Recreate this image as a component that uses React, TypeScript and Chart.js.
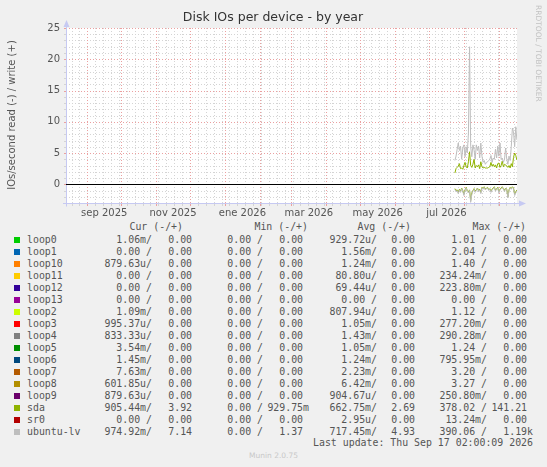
import React, { useEffect, useRef } from "react";
import { Chart, registerables } from "chart.js";

Chart.register(...registerables);

// time window of the graph (munin "by year" = 400 days)
const graphStart = "2025-08-13T02:00:00Z";
const graphEnd = "2026-09-17T02:00:00Z";
const seriesStart = "2026-07-24T00:00:00Z";

const monthStarts = [
  "2025-09-01", "2025-10-01", "2025-11-01", "2025-12-01", "2026-01-01", "2026-02-01",
  "2026-03-01", "2026-04-01", "2026-05-01", "2026-06-01", "2026-07-01", "2026-08-01", "2026-09-01",
];
const xTickMonths = ["2025-09", "2025-11", "2026-01", "2026-03", "2026-05", "2026-07"];
const xTickLabels = ["sep 2025", "nov 2025", "ene 2026", "mar 2026", "may 2026", "jul 2026"];
const yTicks = [0, 5, 10, 15, 20, 25];
const yMin = -3;
const yMax = 25;

// daily values (write = +, read = -)
const ubuntuWrite = [
  3.8, 4.5, 5.6, 6.6, 5.4, 6.1, 4.0, 5.8, 6.3, 4.4, 6.0, 5.0, 8.2, 22.0, 6.0, 4.4, 6.3, 5.5, 4.0, 6.3,
  5.4, 6.1, 4.2, 6.6, 4.5, 3.5, 3.8, 3.2, 3.5, 3.6, 3.8, 4.0, 4.6, 3.5, 4.2, 4.0, 5.6, 4.2, 6.1, 4.5,
  6.6, 4.0, 4.2, 3.5, 4.0, 5.8, 4.0, 3.2, 4.5, 3.8, 6.0, 9.0, 8.4, 6.0, 9.2, 7.1,
];
const sdaWrite = [
  1.8, 2.5, 2.7, 2.9, 3.3, 2.5, 2.6, 2.4, 3.0, 3.5, 2.8, 2.6, 3.6, 5.2, 3.0, 2.7, 3.2, 4.0, 2.6, 3.0,
  2.8, 3.1, 2.5, 3.6, 2.8, 2.6, 2.7, 2.6, 2.6, 2.6, 2.7, 2.8, 3.5, 2.9, 3.2, 2.8, 3.1, 2.6, 3.3, 3.4,
  2.7, 3.0, 3.7, 2.8, 3.2, 3.1, 2.9, 2.7, 3.0, 2.6, 3.3, 2.8, 4.3, 5.0, 4.6, 3.9,
];
const ubuntuRead = [
  -0.8, -1.2, -1.0, -1.5, -0.9, -1.3, -0.7, -1.1, -1.8, -1.0, -0.6, -1.2, -1.4, -1.0, -2.9, -1.6, -1.1, -0.8, -1.3, -1.0,
  -0.7, -1.2, -0.9, -1.5, -0.6, -0.8, -0.5, -0.9, -0.7, -0.6, -1.0, -0.8, -1.3, -0.9, -0.7, -0.5, -1.1, -0.8, -0.6, -1.4,
  -0.9, -0.7, -0.5, -0.8, -1.2, -0.7, -0.9, -2.2, -1.0, -0.6, -0.8, -0.5, -0.7, -1.8, -1.4, -1.0,
];
const sdaRead = [
  -0.7, -1.0, -0.9, -1.3, -0.8, -1.1, -0.6, -1.0, -1.6, -0.9, -0.5, -1.0, -1.2, -0.9, -2.6, -1.4, -1.0, -0.7, -1.1, -0.9,
  -0.6, -1.0, -0.8, -1.3, -0.5, -0.7, -0.4, -0.8, -0.6, -0.5, -0.9, -0.7, -1.1, -0.8, -0.6, -0.4, -1.0, -0.7, -0.5, -1.2,
  -0.8, -0.6, -0.4, -0.7, -1.0, -0.6, -0.8, -2.0, -0.9, -0.5, -0.7, -0.4, -0.6, -1.6, -1.2, -0.9,
];

// legend table
const devices = [
  "loop0", "loop1", "loop10", "loop11", "loop12", "loop13", "loop2", "loop3", "loop4",
  "loop5", "loop6", "loop7", "loop8", "loop9", "sda", "sr0", "ubuntu-lv",
];
const deviceColors = [
  "#00cc00", "#0066b3", "#ff8000", "#ffcc00", "#330099", "#990099", "#ccff00", "#ff0000", "#808080",
  "#008f00", "#00487d", "#b35a00", "#b38f00", "#6b006b", "#8fb300", "#b30000", "#bebebe",
];
const curRead = ["1.06m", "0.00", "879.63u", "0.00", "0.00", "0.00", "1.09m", "995.37u", "833.33u", "3.54m", "1.45m", "7.63m", "601.85u", "879.63u", "905.44m", "0.00", "974.92m"];
const curWrite = ["0.00", "0.00", "0.00", "0.00", "0.00", "0.00", "0.00", "0.00", "0.00", "0.00", "0.00", "0.00", "0.00", "0.00", "3.92", "0.00", "7.14"];
const minRead = ["0.00", "0.00", "0.00", "0.00", "0.00", "0.00", "0.00", "0.00", "0.00", "0.00", "0.00", "0.00", "0.00", "0.00", "0.00", "0.00", "0.00"];
const minWrite = ["0.00", "0.00", "0.00", "0.00", "0.00", "0.00", "0.00", "0.00", "0.00", "0.00", "0.00", "0.00", "0.00", "0.00", "929.75m", "0.00", "1.37"];
const avgRead = ["929.72u", "1.56m", "1.24m", "80.80u", "69.44u", "0.00", "807.94u", "1.05m", "1.43m", "1.05m", "1.24m", "2.23m", "6.42m", "904.67u", "662.75m", "2.95u", "717.45m"];
const avgWrite = ["0.00", "0.00", "0.00", "0.00", "0.00", "0.00", "0.00", "0.00", "0.00", "0.00", "0.00", "0.00", "0.00", "0.00", "2.69", "0.00", "4.93"];
const maxRead = ["1.01", "2.04", "1.40", "234.24m", "223.80m", "0.00", "1.12", "277.20m", "290.28m", "1.24", "795.95m", "3.20", "3.27", "250.80m", "378.02", "13.24m", "390.06"];
const maxWrite = ["0.00", "0.00", "0.00", "0.00", "0.00", "0.00", "0.00", "0.00", "0.00", "0.00", "0.00", "0.00", "0.00", "0.00", "141.21", "0.00", "1.19k"];
const lastUpdate = "Last update: Thu Sep 17 02:00:09 2026";

const DAY = 86400000;
const t = (s: string) => Date.parse(s.length === 10 ? s + "T00:00:00Z" : s);
const points = (vals: number[]) => vals.map((v, i) => ({ x: t(seriesStart) + i * DAY, y: v }));

const GRID = "#d4d4d4";
const MGRID = "#eba0a0";
const AXIS = "#c6c9f2";
const TEXT = "#555555";

const muninPlugin = {
  id: "munin",
  beforeDraw(chart: any) {
    const { ctx, chartArea: a, scales } = chart;
    const x = scales.x;
    const y = scales.y;
    ctx.save();
    ctx.fillStyle = "#f0f0f0";
    ctx.fillRect(0, 0, chart.width, chart.height);
    ctx.fillStyle = "#ffffff";
    ctx.fillRect(a.left, a.top, a.right - a.left, a.bottom - a.top);
    ctx.lineWidth = 1;

    const hline = (v: number, c: string, x0: number, x1: number) => {
      const py = Math.round(y.getPixelForValue(v)) + 0.5;
      ctx.strokeStyle = c;
      ctx.beginPath();
      ctx.moveTo(x0, py);
      ctx.lineTo(x1, py);
      ctx.stroke();
    };
    const vline = (v: number, c: string, y0: number, y1: number) => {
      const px = Math.round(x.getPixelForValue(v)) + 0.5;
      ctx.strokeStyle = c;
      ctx.beginPath();
      ctx.moveTo(px, y0);
      ctx.lineTo(px, y1);
      ctx.stroke();
    };

    const weeks: number[] = [];
    for (let w = t("2025-08-18"); w < t(graphEnd); w += 7 * DAY) weeks.push(w);
    const months = monthStarts.map(t);

    // dotted grid
    ctx.setLineDash([1, 2]);
    for (let v = yMin; v <= yMax; v++) if (v % 5 !== 0) hline(v, GRID, a.left, a.right);
    weeks.forEach((w) => vline(w, GRID, a.top, a.bottom));
    for (let v = yMin; v <= yMax; v++) if (v % 5 === 0 && v !== 0) hline(v, MGRID, a.left, a.right);
    months.forEach((m) => vline(m, MGRID, a.top, a.bottom));
    ctx.setLineDash([]);

    // axis tick marks
    for (let v = yMin; v <= yMax; v++) hline(v, v % 5 === 0 ? MGRID : GRID, a.left - 2, a.left + 1);
    weeks.forEach((w) => vline(w, GRID, a.bottom - 1, a.bottom + 3));
    months.forEach((m) => vline(m, MGRID, a.bottom - 1, a.bottom + 3));

    // axes with arrows
    ctx.strokeStyle = AXIS;
    ctx.fillStyle = AXIS;
    const ax = Math.round(a.left) + 0.5;
    const ay = Math.round(a.bottom) + 0.5;
    ctx.beginPath();
    ctx.moveTo(ax, ay + 3);
    ctx.lineTo(ax, a.top - 4);
    ctx.moveTo(a.left - 3, ay);
    ctx.lineTo(a.right + 4, ay);
    ctx.stroke();
    ctx.beginPath();
    ctx.moveTo(ax - 3, a.top - 1);
    ctx.lineTo(ax + 3, a.top - 1);
    ctx.lineTo(ax, a.top - 8);
    ctx.closePath();
    ctx.fill();
    ctx.beginPath();
    ctx.moveTo(a.right + 2, ay - 3);
    ctx.lineTo(a.right + 2, ay + 3);
    ctx.lineTo(a.right + 9, ay);
    ctx.closePath();
    ctx.fill();
    ctx.restore();
  },
  afterDatasetsDraw(chart: any) {
    const { ctx, chartArea: a, scales } = chart;
    const py = Math.round(scales.y.getPixelForValue(0)) + 0.5;
    ctx.save();
    ctx.strokeStyle = "#000000";
    ctx.lineWidth = 1;
    ctx.beginPath();
    ctx.moveTo(a.left, py);
    ctx.lineTo(a.right, py);
    ctx.stroke();
    ctx.restore();
  },
  afterDraw(chart: any) {
    const { ctx } = chart;
    ctx.save();
    ctx.fillStyle = "#333333";
    ctx.font = "12.5px 'DejaVu Sans'";
    ctx.textAlign = "center";
    ctx.textBaseline = "middle";
    ctx.fillText("Disk IOs per device - by year", 273, 18);

    ctx.save();
    ctx.translate(12, 115);
    ctx.rotate(-Math.PI / 2);
    ctx.fillStyle = TEXT;
    ctx.font = "10px 'DejaVu Sans'";
    ctx.fillText("IOs/second read (-) / write (+)", 0, 0);
    ctx.restore();

    ctx.translate(538, 5);
    ctx.rotate(Math.PI / 2);
    ctx.fillStyle = "#c2c2c2";
    ctx.font = "7.5px 'DejaVu Sans'";
    ctx.textAlign = "left";
    ctx.fillText("RRDTOOL / TOBI OETIKER", 0, 0);
    ctx.restore();
  },
};

const withUnit = (s: string) => (/[0-9]$/.test(s) ? s + " " : s);

function Cell({ text, right, top }: { text: string; right: number; top: number }) {
  return (
    <div style={{ position: "absolute", right: 547 - right, top, lineHeight: "12px", whiteSpace: "pre" }}>
      {text}
    </div>
  );
}

export default function App() {
  const canvasRef = useRef<HTMLCanvasElement | null>(null);
  const chartRef = useRef<Chart | null>(null);

  useEffect(() => {
    if (!canvasRef.current) return;
    if (chartRef.current) chartRef.current.destroy();

    const monthMid = (m: string) => {
      const i = monthStarts.findIndex((s) => s.startsWith(m));
      return (t(monthStarts[i]) + t(monthStarts[i + 1])) / 2;
    };

    chartRef.current = new Chart(canvasRef.current, {
      type: "line",
      data: {
        datasets: [
          { label: "ubuntu-lv", data: points(ubuntuWrite), borderColor: "#bebebe" },
          { label: "ubuntu-lv read", data: points(ubuntuRead), borderColor: "#bebebe" },
          { label: "sda", data: points(sdaWrite), borderColor: "#8fb300" },
          { label: "sda read", data: points(sdaRead), borderColor: "#8fb300" },
        ].map((d) => ({ ...d, borderWidth: 1, pointRadius: 0, tension: 0, fill: false })),
      },
      options: {
        animation: false,
        responsive: false,
        events: [],
        layout: { padding: { top: 28, right: 30, left: 0, bottom: 0 } },
        plugins: { legend: { display: false }, tooltip: { enabled: false }, title: { display: false } },
        scales: {
          x: {
            type: "linear",
            min: t(graphStart),
            max: t(graphEnd),
            grid: { display: false, drawTicks: false },
            border: { display: false },
            afterBuildTicks: (s: any) => {
              s.ticks = xTickMonths.map((m) => ({ value: monthMid(m) }));
            },
            afterFit: (s: any) => {
              s.height = 17;
            },
            ticks: {
              autoSkip: false,
              maxRotation: 0,
              padding: 4,
              color: TEXT,
              font: { family: "DejaVu Sans", size: 10 },
              callback: (_v: any, i: number) => xTickLabels[i],
            },
          },
          y: {
            min: yMin,
            max: yMax,
            grid: { display: false, drawTicks: false },
            border: { display: false },
            afterBuildTicks: (s: any) => {
              s.ticks = yTicks.map((v) => ({ value: v }));
            },
            afterFit: (s: any) => {
              s.width = 66;
            },
            ticks: {
              padding: 6,
              color: TEXT,
              font: { family: "DejaVu Sans", size: 10 },
              callback: (v: any) => String(v),
            },
          },
        },
      },
      plugins: [muninPlugin],
    } as any);

    return () => {
      if (chartRef.current) {
        chartRef.current.destroy();
        chartRef.current = null;
      }
    };
  }, []);

  return (
    <div
      style={{
        position: "fixed",
        left: 0,
        top: 0,
        width: 547,
        height: 467,
        background: "#f0f0f0",
        overflow: "hidden",
        fontFamily: "'DejaVu Sans Mono', monospace",
        fontSize: "9.9px",
        color: TEXT,
      }}
    >
      <canvas ref={canvasRef} width={547} height={220} style={{ position: "absolute", left: 0, top: 0, width: 547, height: 220 }} />
      <Cell text="Cur (-/+)" right={183} top={221} />
      <Cell text="Min (-/+)" right={308} top={221} />
      <Cell text="Avg (-/+)" right={411} top={221} />
      <Cell text="Max (-/+)" right={526} top={221} />
      {devices.map((name, i) => {
        const top = 234 + i * 12;
        return (
          <React.Fragment key={name}>
            <div style={{ position: "absolute", left: 14, top: top + 3, width: 6, height: 6, background: deviceColors[i] }} />
            <div style={{ position: "absolute", left: 27, top, lineHeight: "12px", whiteSpace: "pre" }}>{name}</div>
            <Cell text={withUnit(curRead[i]) + "/"} right={152} top={top} />
            <Cell text={withUnit(curWrite[i])} right={198} top={top} />
            <Cell text={withUnit(minRead[i]) + "/"} right={263} top={top} />
            <Cell text={withUnit(minWrite[i])} right={309} top={top} />
            <Cell text={withUnit(avgRead[i]) + "/"} right={377} top={top} />
            <Cell text={withUnit(avgWrite[i])} right={421} top={top} />
            <Cell text={withUnit(maxRead[i]) + "/"} right={487} top={top} />
            <Cell text={withUnit(maxWrite[i])} right={533} top={top} />
          </React.Fragment>
        );
      })}
      <Cell text={lastUpdate} right={533} top={437} />
      <div
        style={{
          position: "absolute",
          left: 0,
          width: 547,
          top: 451,
          textAlign: "center",
          fontFamily: "'DejaVu Sans', sans-serif",
          fontSize: "7.5px",
          lineHeight: "10px",
          color: "#c8c8c8",
        }}
      >
        Munin 2.0.75
      </div>
    </div>
  );
}
